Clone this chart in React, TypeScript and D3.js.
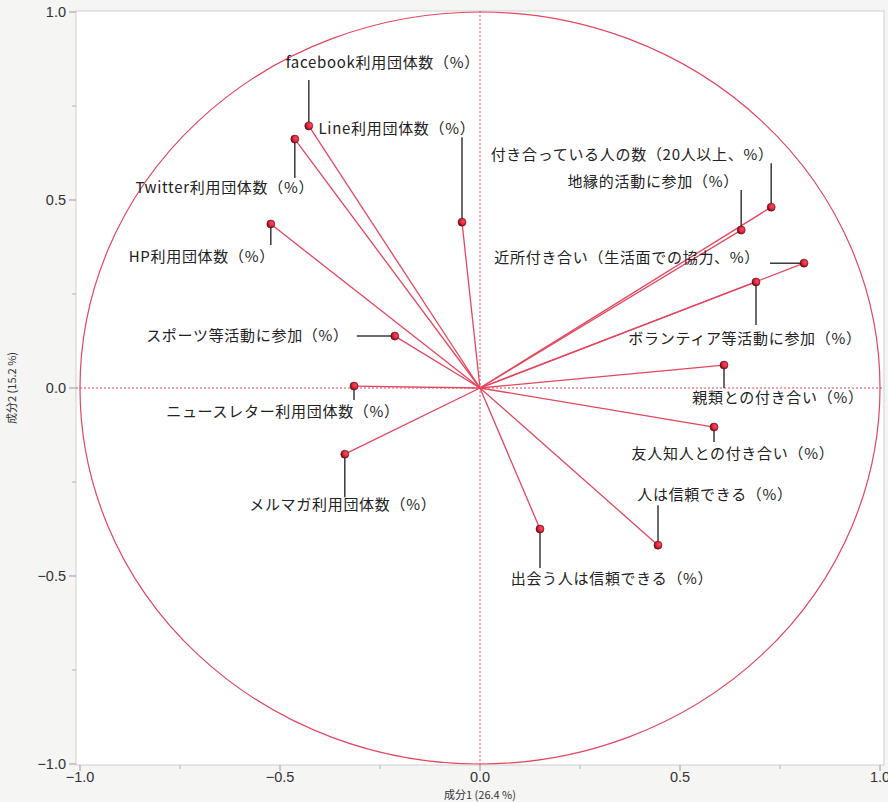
import React from "react";
import * as d3 from "d3";

const labels: string[] = [
  "facebook利用団体数（%）",
  "Line利用団体数（%）",
  "Twitter利用団体数（%）",
  "HP利用団体数（%）",
  "スポーツ等活動に参加（%）",
  "ニュースレター利用団体数（%）",
  "メルマガ利用団体数（%）",
  "出会う人は信頼できる（%）",
  "人は信頼できる（%）",
  "友人知人との付き合い（%）",
  "親類との付き合い（%）",
  "ボランティア等活動に参加（%）",
  "近所付き合い（生活面での協力、%）",
  "地縁的活動に参加（%）",
  "付き合っている人の数（20人以上、%）",
];
const comp1: number[] = [-0.428, -0.045, -0.463, -0.523, -0.213, -0.315, -0.338, 0.15, 0.445, 0.585, 0.61, 0.69, 0.81, 0.653, 0.728];
const comp2: number[] = [0.697, 0.441, 0.662, 0.436, 0.138, 0.005, -0.176, -0.375, -0.418, -0.104, 0.061, 0.282, 0.332, 0.42, 0.481];

const majorTicks: number[] = [-1, -0.5, 0, 0.5, 1];
const minorTicks: number[] = [-0.75, -0.25, 0.25, 0.75];
const xTitle = "成分1 (26.4 %)";
const yTitle = "成分2 (15.2 %)";

// label layout: leader line end (lx, ly) and text anchor offset (tx, ty), relative to point in px
const layout: { lx: number; ly: number; tx: number; ty: number; anchor: string }[] = [
  { lx: 0, ly: -46, tx: 74, ty: -58, anchor: "middle" },
  { lx: 0, ly: -85, tx: -65, ty: -88, anchor: "middle" },
  { lx: 0, ly: 39, tx: -70, ty: 54, anchor: "middle" },
  { lx: 0, ly: 21, tx: -69, ty: 38, anchor: "middle" },
  { lx: -38, ly: 0, tx: -46, ty: 5, anchor: "end" },
  { lx: 0, ly: 14, tx: -71, ty: 31, anchor: "middle" },
  { lx: 0, ly: 43, tx: -2, ty: 56, anchor: "middle" },
  { lx: 0, ly: 39, tx: 72, ty: 55, anchor: "middle" },
  { lx: 0, ly: -40, tx: 57, ty: -45, anchor: "middle" },
  { lx: 0, ly: 15, tx: 19, ty: 32, anchor: "middle" },
  { lx: 0, ly: 23, tx: 54, ty: 38, anchor: "middle" },
  { lx: 0, ly: 43, tx: -11, ty: 62, anchor: "middle" },
  { lx: -34, ly: 0, tx: -44, ty: 0, anchor: "end" },
  { lx: 0, ly: -40, tx: -88, ty: -43, anchor: "middle" },
  { lx: 0, ly: -44, tx: -139, ty: -47, anchor: "middle" },
];

const W = 888;
const H = 802;
const RED = "#e4465d";
const FONT = "'Noto Sans CJK JP', 'Noto Sans', sans-serif";
const NUMFONT = "'Liberation Sans', Arial, sans-serif";

export default function App() {
  const x = d3.scaleLinear().domain([-1, 1]).range([80, 880]);
  const y = d3.scaleLinear().domain([-1, 1]).range([764, 12]);
  const frame = { x0: 76, x1: 884, y0: 11, y1: 765 };
  const rx = x(1) - x(0);
  const ry = y(0) - y(1);
  const pts = labels.map((l, i) => ({ label: l, px: x(comp1[i]), py: y(comp2[i]), lay: layout[i] }));

  return (
    <svg width={W} height={H} style={{ position: "absolute", left: 0, top: 0 }} xmlns="http://www.w3.org/2000/svg">
      <defs>
        <radialGradient id="mk" cx="65%" cy="40%" r="70%">
          <stop offset="0%" stopColor="#ff4a5e" />
          <stop offset="55%" stopColor="#e0223a" />
          <stop offset="100%" stopColor="#3a0a10" />
        </radialGradient>
      </defs>
      <rect x={0} y={0} width={W} height={H} fill="#f5f5f3" />
      <rect x={frame.x0} y={frame.y0} width={frame.x1 - frame.x0} height={frame.y1 - frame.y0} fill="#ffffff" stroke="#cfcfcf" strokeWidth={1} />
      {majorTicks.map((t) => (
        <g key={"yt" + t}>
          <line x1={frame.x0 - 7} x2={frame.x0} y1={y(t)} y2={y(t)} stroke="#9a9a9a" strokeWidth={1} />
          <text x={frame.x0 - 10} y={y(t) + 5} textAnchor="end" fontSize={14.5} fill="#333" fontFamily={NUMFONT}>
            {d3.format(".1f")(t)}
          </text>
          <line x1={x(t)} x2={x(t)} y1={frame.y1} y2={frame.y1 + 6} stroke="#9a9a9a" strokeWidth={1} />
          <text x={x(t)} y={frame.y1 + 17} textAnchor="middle" fontSize={14.5} fill="#333" fontFamily={NUMFONT}>
            {d3.format(".1f")(t)}
          </text>
        </g>
      ))}
      {minorTicks.map((t) => (
        <g key={"mt" + t}>
          <line x1={frame.x0 - 4} x2={frame.x0} y1={y(t)} y2={y(t)} stroke="#b5b5b5" strokeWidth={1} />
          <line x1={x(t)} x2={x(t)} y1={frame.y1} y2={frame.y1 + 4} stroke="#b5b5b5" strokeWidth={1} />
        </g>
      ))}
      <text x={x(0)} y={799} textAnchor="middle" fontSize={11} fill="#333" fontFamily={FONT}>{xTitle}</text>
      <text transform={`translate(16, ${y(0)}) rotate(-90)`} textAnchor="middle" fontSize={11} fill="#333" fontFamily={FONT}>{yTitle}</text>
      <line x1={x(0)} x2={x(0)} y1={frame.y0} y2={frame.y1} stroke={RED} strokeWidth={1} strokeDasharray="2,2" />
      <line x1={frame.x0} x2={frame.x1} y1={y(0)} y2={y(0)} stroke={RED} strokeWidth={1} strokeDasharray="2,2" />
      <ellipse cx={x(0)} cy={y(0)} rx={rx} ry={ry} fill="none" stroke={RED} strokeWidth={1.2} />
      {pts.map((p, i) => (
        <line key={"v" + i} x1={x(0)} y1={y(0)} x2={p.px} y2={p.py} stroke={RED} strokeWidth={1.3} />
      ))}
      {pts.map((p, i) => (
        <g key={"l" + i}>
          <line x1={p.px} y1={p.py} x2={p.px + p.lay.lx} y2={p.py + p.lay.ly} stroke="#3a3a3a" strokeWidth={1.5} />
          <text x={p.px + p.lay.tx} y={p.py + p.lay.ty} textAnchor={p.lay.anchor as any} fontSize={15} letterSpacing={0.7} fill="#222" fontFamily={FONT}>
            {p.label}
          </text>
        </g>
      ))}
      {pts.map((p, i) => (
        <circle key={"m" + i} cx={p.px} cy={p.py} r={4} fill="url(#mk)" stroke="#5a1018" strokeWidth={0.6} />
      ))}
    </svg>
  );
}
